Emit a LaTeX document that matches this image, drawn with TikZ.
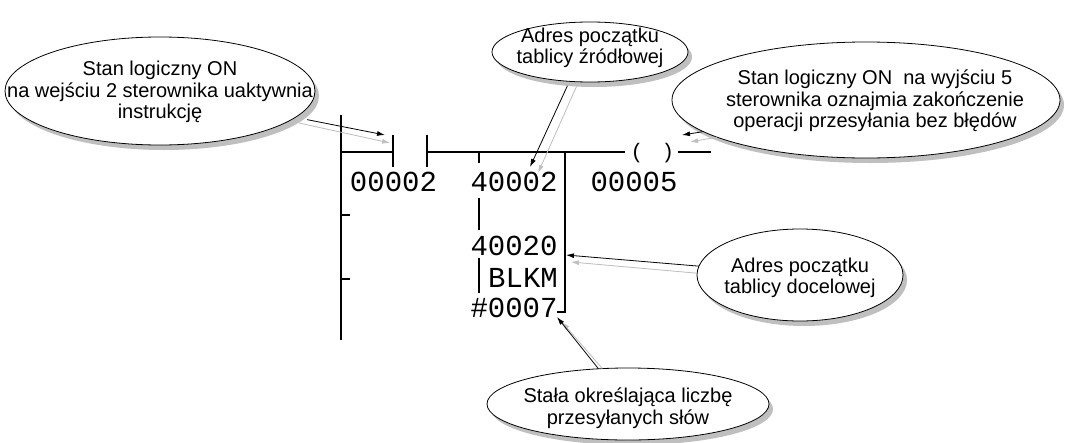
\documentclass[tikz,border=0pt]{standalone}
\usepackage{fontspec}
\setmainfont{Liberation Sans}
\newfontfamily\ladderfont{Liberation Mono}
\usetikzlibrary{shapes.geometric,shadows,arrows.meta}

\tikzset{
  bubble/.style={ellipse, draw, fill=white, line width=0.8pt, inner sep=0pt, outer sep=0pt,
    drop shadow={shadow xshift=4pt, shadow yshift=-5pt, fill=gray!50, opacity=1}},
  bubbletext/.style={align=center, inner sep=0pt, font=\fontsize{20}{21.5}\selectfont},
  ladder/.style={inner sep=0pt, anchor=base, font=\ladderfont\fontsize{29}{29}\selectfont},
  callout/.style={line width=0.8pt, -{Latex[length=8pt,width=5pt]}},
  calloutshade/.style={callout, draw=gray!50, fill=gray!50}
}

\begin{document}
\begin{tikzpicture}[x=1pt, y=-1pt]
            \useasboundingbox (0,0) rectangle (1067,442);
            % szczebel drabinki
            \draw[line width=1.1pt] (341,115) -- (341,340);
            \draw[line width=1.1pt] (341,215) -- (350,215);
            \draw[line width=1.1pt] (341,279) -- (350,279);
            \draw[line width=1.1pt] (341,152) -- (393,152);
            \draw[line width=1.1pt] (393,135) -- (393,167);
            \draw[line width=1.1pt] (427,135) -- (427,167);
            \draw[line width=1.1pt] (427,152) -- (625,152);
            \draw[line width=1.1pt] (479,152) -- (479,163);
            \draw[line width=1.1pt] (565,152) -- (565,312) -- (557,312);
            \draw[line width=1.1pt] (479,198) -- (479,230);
            \draw[line width=1.1pt] (479,258) -- (479,293);
            \draw[line width=1.1pt] (678,152) -- (711,152);
            \node[ladder, anchor=center, font=\ladderfont\fontsize{21}{21}\selectfont] (coilL) at (637,153) {(};
            \node[ladder, anchor=center, font=\ladderfont\fontsize{21}{21}\selectfont] (coilR) at (668,153) {)};
            \node[ladder] (inAddr) at (393.5,191) {00002};
            \node[ladder] (srcAddr) at (514,191) {40002};
            \node[ladder] (outAddr) at (634,191) {00005};
            \node[ladder] (dstAddr) at (514,255) {40020};
            \node[ladder] (blkm) at (523,287) {BLKM};
            \node[ladder] (cntAddr) at (514,317) {\#0007};
            % dymki
            \node[bubble, minimum width=310, minimum height=108] (inBubble) at (160,91) {};
            \node[bubbletext] (inText) at (160,92) {Stan logiczny ON\\na wejściu 2 sterownika uaktywnia\\instrukcję};
            \node[bubble, minimum width=196, minimum height=60] (srcBubble) at (590,52) {};
            \node[bubbletext] (srcText) at (590,48) {Adres początku\\tablicy źródłowej};
            \node[bubble, minimum width=388, minimum height=116] (outBubble) at (866,100) {};
            \node[bubbletext] (outText) at (875,101) {Stan logiczny ON\ \ na wyjściu 5\\sterownika oznajmia zakończenie\\operacji przesyłania bez błędów};
            \node[bubble, minimum width=206, minimum height=92] (dstBubble) at (800,275) {};
            \node[bubbletext] (dstText) at (800,278) {Adres początku\\tablicy docelowej};
            \node[bubble, minimum width=282, minimum height=72] (cntBubble) at (628,404) {};
            \node[bubbletext] (cntText) at (628,408) {Stała określająca liczbę\\przesyłanych słów};
            % strzalki
            \coordinate (inTip) at (385,135);
            \coordinate (srcTip) at (530,167);
            \coordinate (outTip) at (682,135);
            \coordinate (dstTip) at (566,255);
            \coordinate (cntTip) at (557,317);
            \draw[calloutshade, shorten <=10pt] (inBubble.-13) -- ([shift={(5,8)}]inTip);
            \draw[callout, shorten <=12pt] (inBubble.-11) -- (inTip);
            \draw[calloutshade, shorten <=5pt] (srcBubble.-111) -- ([shift={(8,6)}]srcTip);
            \draw[callout, shorten <=5pt] (srcBubble.-125) -- (srcTip);
            \draw[calloutshade] (outBubble.-166) -- ([shift={(8,7)}]outTip);
            \draw[callout] (outBubble.-169) -- (outTip);
            \draw[calloutshade] (dstBubble.179) -- ([shift={(5,7)}]dstTip);
            \draw[callout] (dstBubble.175) -- (dstTip);
            \draw[calloutshade] (cntBubble.126) -- ([shift={(5,5)}]cntTip);
            \draw[callout] (cntBubble.130) -- (cntTip);
\end{tikzpicture}
\end{document}
